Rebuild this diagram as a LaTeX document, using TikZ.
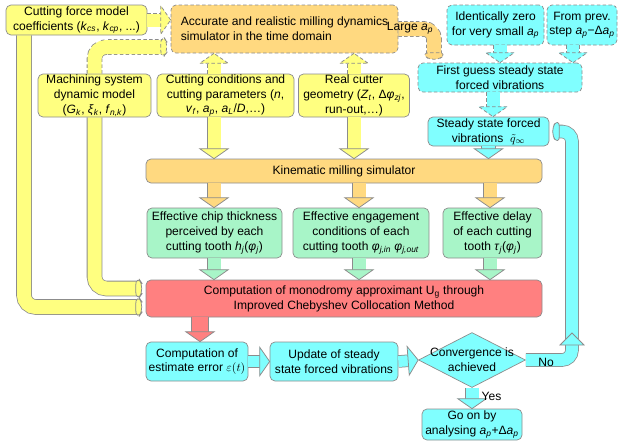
\documentclass[tikz,border=0pt]{standalone}
\usepackage{fontspec}
\setmainfont{Liberation Sans}
\usetikzlibrary{shapes.geometric,decorations.markings}
\definecolor{yel}{HTML}{FFFF80}
\definecolor{org}{HTML}{FFD980}
\definecolor{cya}{HTML}{80FFFF}
\definecolor{grn}{HTML}{A8F5C8}
\definecolor{rdd}{HTML}{FF8080}
\definecolor{edge}{HTML}{8C8C8C}
\newcommand\sub[1]{\textsubscript{#1}}
\newcommand\fatar[4][]{%
  \draw[draw=edge, line width=#3*0.03cm+1.3pt, shorten >=0.22cm, #1] #4;
  \draw[draw=#2, line width=#3*0.03cm, shorten >=0.2cm] #4;
  \path[decorate, decoration={markings, mark=at position 1 with {\filldraw[fill=#2, draw=edge, line width=0.65pt, #1] (0cm,0cm) -- (-0.3cm,0.43cm) -- (-0.3cm,-0.43cm) -- cycle;}}] #4;
}
\begin{document}
\begin{tikzpicture}[x=0.03cm,y=-0.03cm,
  box/.style={draw=edge, line width=0.6pt, rounded corners=0.15cm, align=center, inner sep=0pt, font=\fontsize{10.3}{12.6}\selectfont},
  sz/.style 2 args={minimum width=#1*0.03cm, minimum height=#2*0.03cm},
  dsh/.style={dash pattern=on 3pt off 2pt},
  lbl/.style={font=\fontsize{10.3}{12.6}\selectfont, inner sep=0pt}]
\useasboundingbox (0,0) rectangle (618,441);

% nodes
\node[box, fill=yel, sz={141}{30}] (cf) at (76.5,20) {Cutting force model\\coefficients (\textit{k}\sub{\textit{cs}}, \textit{k}\sub{\textit{cp}}, ...)};
\node[box, fill=org, dsh, sz={227}{48}, align=left] (acc) at (284.5,29) {Accurate and realistic milling dynamics\\simulator in the time domain};
\node[box, fill=yel, sz={113}{43}] (msd) at (94.5,95.5) {Machining system\\dynamic model\\(\textit{G}\sub{\textit{k}}, \textit{ξ}\sub{\textit{k}}, \textit{f}\sub{\textit{n,k}})};
\node[box, fill=yel, sz={137}{43}] (cc) at (225.5,95.5) {Cutting conditions and\\cutting parameters (\textit{n},\\\textit{v}\sub{\textit{f}}, \textit{a}\sub{\textit{p}}, \textit{a}\sub{\textit{L}}/\textit{D},…)};
\node[box, fill=yel, sz={111}{43}] (rc) at (354,95.5) {Real cutter\\geometry (\textit{Z}\sub{\textit{t}}, Δ\textit{φ}\sub{\textit{zj}},\\run-out,…)};
\node[box, fill=cya, dsh, sz={97}{40}] (iz) at (495.5,25) {Identically zero\\for very small \textit{a}\sub{\textit{p}}};
\node[box, fill=cya, dsh, sz={70}{40}] (fp) at (582,25) {From prev.\\step \textit{a}\sub{\textit{p}}−Δ\textit{a}\sub{\textit{p}}};
\node[box, fill=cya, dsh, sz={164}{29}] (fg) at (500,77.5) {First guess steady state\\forced vibrations};
\node[box, fill=cya, sz={121}{29}] (ss) at (488.5,131.5) {Steady state forced\\vibrations\ \ $\tilde{q}_\infty$};
\node[box, fill=org, sz={396}{24}] (kin) at (344,171) {Kinematic milling simulator};
\node[box, fill=grn, sz={135}{50}] (ect) at (214.5,233) {Effective chip thickness\\perceived by each\\cutting tooth \textit{h}\sub{\textit{j}}(\textit{φ}\sub{\textit{j}})};
\node[box, fill=grn, sz={136}{50}] (eec) at (361,233) {Effective engagement\\conditions of each\\cutting tooth \textit{φ}\sub{\textit{j,in}} \textit{φ}\sub{\textit{j,out}}};
\node[box, fill=grn, sz={99}{50}] (ed) at (492.5,233) {Effective delay\\of each cutting\\tooth \textit{τ}\sub{\textit{j}}(\textit{φ}\sub{\textit{j}})};
\node[box, fill=rdd, sz={396}{37}] (red) at (344,298.5) {Computation of monodromy approximant U\sub{g} through\\Improved Chebyshev Collocation Method};
\node[box, fill=cya, sz={102}{39}] (cee) at (197,361.5) {Computation of\\estimate error $\varepsilon(t)$};
\node[box, fill=cya, sz={128}{39}] (upd) at (334,361.5) {Update of steady\\state forced vibrations};
\node[draw=edge, line width=0.6pt, fill=cya, diamond, inner sep=0pt, sz={107}{55}] (conv) at (472,360) {};
\node[box, fill=cya, sz={100}{31}] (go) at (472,424.5) {Go on by\\analysing \textit{a}\sub{\textit{p}}+Δ\textit{a}\sub{\textit{p}}};

% helper coordinates
\coordinate (xcf) at (24,0);
\coordinate (ycf) at (0,307);
\coordinate (ymsd) at (0,288.5);
\coordinate (yacc) at (0,47);
\coordinate (xcc) at (214,0);
\coordinate (xe2) at (359,0);
\coordinate (xe3) at (490,0);
\coordinate (xred) at (200,0);
\coordinate (xiz) at (500,0);
\coordinate (xfp) at (573,0);
\coordinate (xfg) at (493,0);
\coordinate (xlg) at (434,0);
\coordinate (xloop) at (572,0);
\coordinate (midh) at (572,345);

% arrows
\fatar[dsh]{yel}{13}{(cf.east) -- (cf.east -| acc.west)}
\fatar{yel}{14}{(xcf |- cf.south) [rounded corners=0.35cm] |- (red.west |- ycf)}
\fatar[dsh]{yel}{14}{(msd.north) [rounded corners=0.35cm] |- (acc.west |- yacc)}
\fatar{yel}{14}{(msd.south) [rounded corners=0.35cm] |- (red.west |- ymsd)}
\fatar[dsh]{yel}{13}{(xcc |- cc.north) -- (xcc |- acc.south)}
\fatar{yel}{13}{(xcc |- cc.south) -- (xcc |- kin.north)}
\fatar[dsh]{yel}{13}{(rc.north) -- (rc.north |- acc.south)}
\fatar{yel}{13}{(rc.south) -- (rc.south |- kin.north)}
\fatar{org}{13}{(xcc |- kin.south) -- (xcc |- ect.north)}
\fatar{org}{13}{(xe2 |- kin.south) -- (xe2 |- eec.north)}
\fatar{org}{13}{(xe3 |- kin.south) -- (xe3 |- ed.north)}
\fatar{cya}{13}{(ss.south) -- (ss.south |- kin.north)}
\fatar{grn}{13}{(xcc |- ect.south) -- (xcc |- red.north)}
\fatar{grn}{13}{(xe2 |- eec.south) -- (xe2 |- red.north)}
\fatar{grn}{13}{(xe3 |- ed.south) -- (xe3 |- red.north)}
\fatar{rdd}{16}{(xred |- red.south) -- (xred |- cee.north)}
\fatar{cya}{11}{(cee.east) -- (upd.west)}
\fatar{cya}{11}{(upd.east) -- (conv.west)}
\fatar{cya}{12}{(conv.east) [rounded corners=0.3cm] -| (xloop |- ss.east) -- (ss.east)}
\filldraw[fill=cya, draw=edge, line width=0.65pt] (midh) ++(-0.36cm,0cm) -- ++(0.36cm,0.36cm) -- ++(0.36cm,-0.36cm) -- cycle;
\fatar{cya}{13}{(conv.south) -- (go.north)}
\fatar[dsh]{org}{14}{(acc.east) [rounded corners=0.3cm] -| (xlg |- fg.north)}
\fatar[dsh]{cya}{13}{(xiz |- iz.south) -- (xiz |- fg.north)}
\fatar[dsh]{cya}{12}{(xfp |- fp.south) -- (xfp |- fg.north)}
\fatar[dsh]{cya}{13}{(xfg |- fg.south) -- (xfg |- ss.north)}

% labels
\node[lbl, align=center] (convt) at (conv.center) {Convergence is\\achieved};
\node[lbl] (lgap) at (410,28) {Large \textit{a}\sub{\textit{p}}};
\node[lbl] (no) at (546,362) {No};
\node[lbl] (yes) at (491.5,396) {Yes};
\end{tikzpicture}
\end{document}
